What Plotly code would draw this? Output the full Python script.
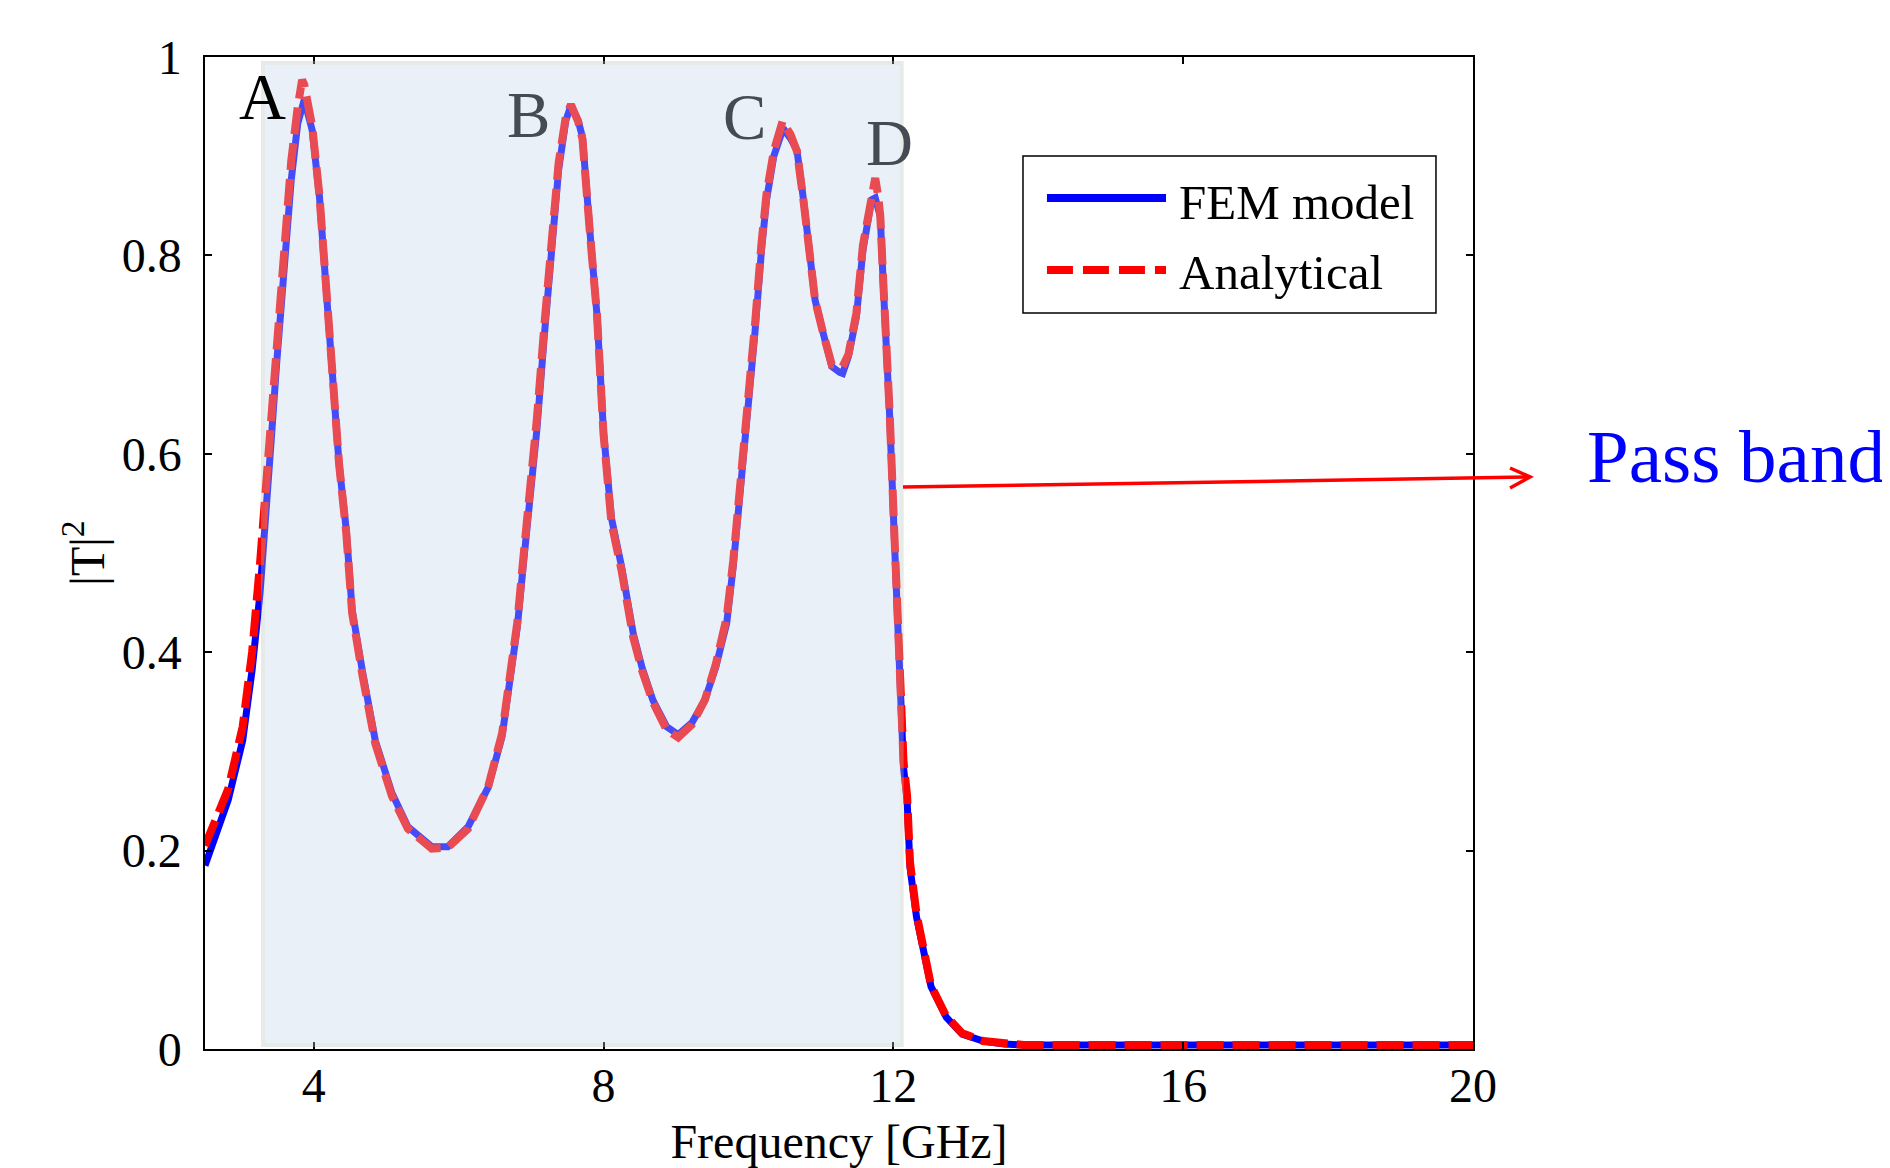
import plotly.graph_objects as go

# ---------------- data ----------------
fem_x = [2.50, 2.82, 3.02, 3.15, 3.26, 3.33, 3.41, 3.49, 3.59, 3.69, 3.78, 3.87, 3.98, 4.08, 4.18,
         4.27, 4.35, 4.45, 4.53, 4.67, 4.85, 5.08, 5.30, 5.63, 5.85, 6.13, 6.41, 6.60, 6.68, 6.81,
         6.90, 7.00, 7.08, 7.19, 7.29, 7.38, 7.48, 7.55, 7.65, 7.71, 7.81, 7.91, 8.00, 8.11, 8.25,
         8.41, 8.53, 8.68, 8.87, 9.03, 9.22, 9.40, 9.55, 9.70, 9.79, 9.88, 10.00, 10.09, 10.18,
         10.25, 10.35, 10.48, 10.58, 10.67, 10.76, 10.83, 10.92, 11.03, 11.15, 11.26, 11.30, 11.38,
         11.49, 11.58, 11.70, 11.75, 11.82, 11.86, 11.91, 11.95, 12.00, 12.05, 12.09, 12.14, 12.19,
         12.23, 12.32, 12.41, 12.52, 12.73, 12.95, 13.24, 13.53, 13.80, 14.50, 16.00, 18.00, 20.00]
fem_y = [0.185, 0.251, 0.311, 0.382, 0.460, 0.523, 0.610, 0.692, 0.792, 0.876, 0.933, 0.957, 0.926,
         0.859, 0.758, 0.657, 0.590, 0.523, 0.443, 0.382, 0.311, 0.258, 0.224, 0.204, 0.204, 0.224,
         0.264, 0.315, 0.359, 0.425, 0.493, 0.560, 0.624, 0.725, 0.808, 0.886, 0.936, 0.951, 0.936,
         0.919, 0.826, 0.740, 0.622, 0.535, 0.486, 0.419, 0.385, 0.352, 0.325, 0.317, 0.329, 0.352,
         0.385, 0.429, 0.486, 0.553, 0.637, 0.722, 0.805, 0.856, 0.900, 0.928, 0.918, 0.906, 0.856,
         0.805, 0.755, 0.722, 0.688, 0.682, 0.681, 0.698, 0.738, 0.805, 0.856, 0.858, 0.839, 0.772,
         0.705, 0.637, 0.540, 0.430, 0.352, 0.284, 0.251, 0.183, 0.133, 0.100, 0.063, 0.032, 0.015,
         0.008, 0.005, 0.004, 0.004, 0.004, 0.004, 0.004]

ana_x = [2.50, 2.82, 3.02, 3.15, 3.26, 3.33, 3.41, 3.49, 3.59, 3.69, 3.78, 3.84, 3.87, 3.98, 4.08,
         4.18, 4.27, 4.35, 4.45, 4.53, 4.67, 4.85, 5.08, 5.30, 5.63, 5.85, 6.13, 6.41, 6.60, 6.68,
         6.81, 6.90, 7.00, 7.08, 7.19, 7.29, 7.38, 7.48, 7.55, 7.65, 7.71, 7.81, 7.91, 8.00, 8.11,
         8.25, 8.41, 8.53, 8.68, 8.87, 9.03, 9.22, 9.40, 9.55, 9.70, 9.79, 9.88, 10.00, 10.09, 10.18,
         10.25, 10.35, 10.47, 10.58, 10.67, 10.76, 10.83, 10.92, 11.03, 11.15, 11.22, 11.30, 11.38,
         11.49, 11.58, 11.70, 11.75, 11.79, 11.82, 11.86, 11.91, 11.95, 12.00, 12.05, 12.09, 12.14,
         12.19, 12.23, 12.32, 12.41, 12.52, 12.73, 12.95, 13.24, 13.53, 13.80, 14.50, 16.00, 18.00, 20.00]
ana_y = [0.205, 0.262, 0.325, 0.400, 0.490, 0.560, 0.640, 0.720, 0.815, 0.895, 0.950, 0.977, 0.972,
         0.930, 0.860, 0.760, 0.660, 0.590, 0.520, 0.440, 0.378, 0.308, 0.255, 0.222, 0.202, 0.203,
         0.222, 0.265, 0.318, 0.362, 0.430, 0.500, 0.570, 0.635, 0.735, 0.818, 0.893, 0.940, 0.952,
         0.935, 0.917, 0.825, 0.740, 0.620, 0.530, 0.482, 0.415, 0.382, 0.350, 0.322, 0.314, 0.327,
         0.352, 0.388, 0.435, 0.492, 0.560, 0.645, 0.730, 0.812, 0.862, 0.905, 0.935, 0.922, 0.905,
         0.855, 0.805, 0.755, 0.722, 0.690, 0.690, 0.688, 0.700, 0.742, 0.810, 0.865, 0.878, 0.860,
         0.840, 0.775, 0.708, 0.640, 0.545, 0.435, 0.360, 0.290, 0.255, 0.188, 0.136, 0.102, 0.064,
         0.033, 0.016, 0.008, 0.005, 0.004, 0.004, 0.004, 0.004, 0.004]

x_ticks = [4, 8, 12, 16, 20]
y_ticks = [0, 0.2, 0.4, 0.6, 0.8, 1]
y_ticktext = ["0", "0.2", "0.4", "0.6", "0.8", "1"]

series_names = ["FEM model", "Analytical"]
peak_labels = ["A", "B", "C", "D"]
peak_label_x = [3.30, 6.96, 9.95, 11.94]
peak_label_y = [0.960, 0.942, 0.940, 0.913]
pass_band = [3.30, 12.115]

FONT = "Liberation Serif"

fig = go.Figure()
fig.add_trace(go.Scatter(x=fem_x, y=fem_y, mode="lines", name=series_names[0],
                         line=dict(color="#0000FF", width=7), showlegend=False))
fig.add_trace(go.Scatter(x=ana_x, y=ana_y, mode="lines", name=series_names[1],
                         line=dict(color="#FF0000", width=8, dash="27px,9px"), showlegend=False))

shapes = []
# translucent pass-band shading drawn over the curves
shapes.append(dict(type="rect", xref="x", yref="y", x0=pass_band[0], x1=pass_band[1],
                   y0=0.004, y1=0.994, layer="above", opacity=0.35,
                   fillcolor="rgb(195,215,235)", line=dict(color="rgb(189,200,189)", width=4)))

# legend box (drawn manually to reproduce the long line samples)
shapes.append(dict(type="rect", xref="paper", yref="paper", x0=0.6451, x1=0.9708,
                   y0=0.7419, y1=0.9002, line=dict(color="black", width=1.5),
                   fillcolor="white", layer="above"))
shapes.append(dict(type="line", xref="paper", yref="paper", x0=0.664, x1=0.7579,
                   y0=0.8579, y1=0.8579, line=dict(color="#0000FF", width=8), layer="above"))
shapes.append(dict(type="line", xref="paper", yref="paper", x0=0.664, x1=0.7579,
                   y0=0.7853, y1=0.7853, line=dict(color="#FF0000", width=8, dash="26px,10px"),
                   layer="above"))

# arrow to "Pass band"
shapes.append(dict(type="line", xref="paper", yref="paper", x0=0.5505, y0=0.5665,
                   x1=1.045, y1=0.5766, line=dict(color="#FF0000", width=3.5), layer="above"))
shapes.append(dict(type="path", xref="paper", yref="paper",
                   path="M 1.0292,0.5857 L 1.045,0.5766 L 1.0292,0.5655",
                   line=dict(color="#FF0000", width=3.5), layer="above"))

annotations = []
label_colors = ["#000000", "#444B52", "#444B52", "#444B52"]
for lab, lx, ly, lc in zip(peak_labels, peak_label_x, peak_label_y, label_colors):
    annotations.append(dict(x=lx, y=ly, xref="x", yref="y", text=lab, showarrow=False,
                            xanchor="center", yanchor="middle",
                            font=dict(family=FONT, size=65, color=lc)))
annotations.append(dict(x=0.7666, y=0.8538, xref="paper", yref="paper", text=series_names[0],
                        showarrow=False, xanchor="left", yanchor="middle",
                        font=dict(family=FONT, size=49, color="black")))
annotations.append(dict(x=0.7666, y=0.7823, xref="paper", yref="paper", text=series_names[1],
                        showarrow=False, xanchor="left", yanchor="middle",
                        font=dict(family=FONT, size=49, color="black")))
annotations.append(dict(x=1.2074, y=0.5968, xref="paper", yref="paper", text="Pass band",
                        showarrow=False, xanchor="center", yanchor="middle",
                        font=dict(family=FONT, size=75, color="#0000FF")))

# page body has an 8 px margin, so the figure is 8 px smaller and margins shifted
fig.update_layout(
    width=1882, height=1160,
    margin=dict(l=197, r=417, t=49, b=119, autoexpand=False),
    paper_bgcolor="white", plot_bgcolor="white",
    font=dict(family=FONT, size=48, color="black"),
    shapes=shapes, annotations=annotations, showlegend=False,
)
fig.update_xaxes(
    range=[2.5, 20], tickvals=x_ticks, showgrid=False, zeroline=False,
    showline=True, linecolor="black", linewidth=1.5, mirror="ticks",
    ticks="inside", ticklen=7, tickwidth=1.5, tickcolor="black",
    tickfont=dict(family=FONT, size=48, color="black"), ticklabelstandoff=-6,
    title=dict(text="Frequency [GHz]", font=dict(family=FONT, size=48, color="black"), standoff=30),
    automargin=False,
)
fig.update_yaxes(
    range=[0, 1], tickvals=y_ticks, ticktext=y_ticktext, showgrid=False, zeroline=False,
    showline=True, linecolor="black", linewidth=1.5, mirror="ticks",
    ticks="inside", ticklen=7, tickwidth=1.5, tickcolor="black",
    tickfont=dict(family=FONT, size=48, color="black"), ticklabelstandoff=12,
    title=dict(text="|T|<sup>2</sup>", font=dict(family=FONT, size=48, color="black"), standoff=2),
    automargin=False,
)

fig.write_html("out.html")
